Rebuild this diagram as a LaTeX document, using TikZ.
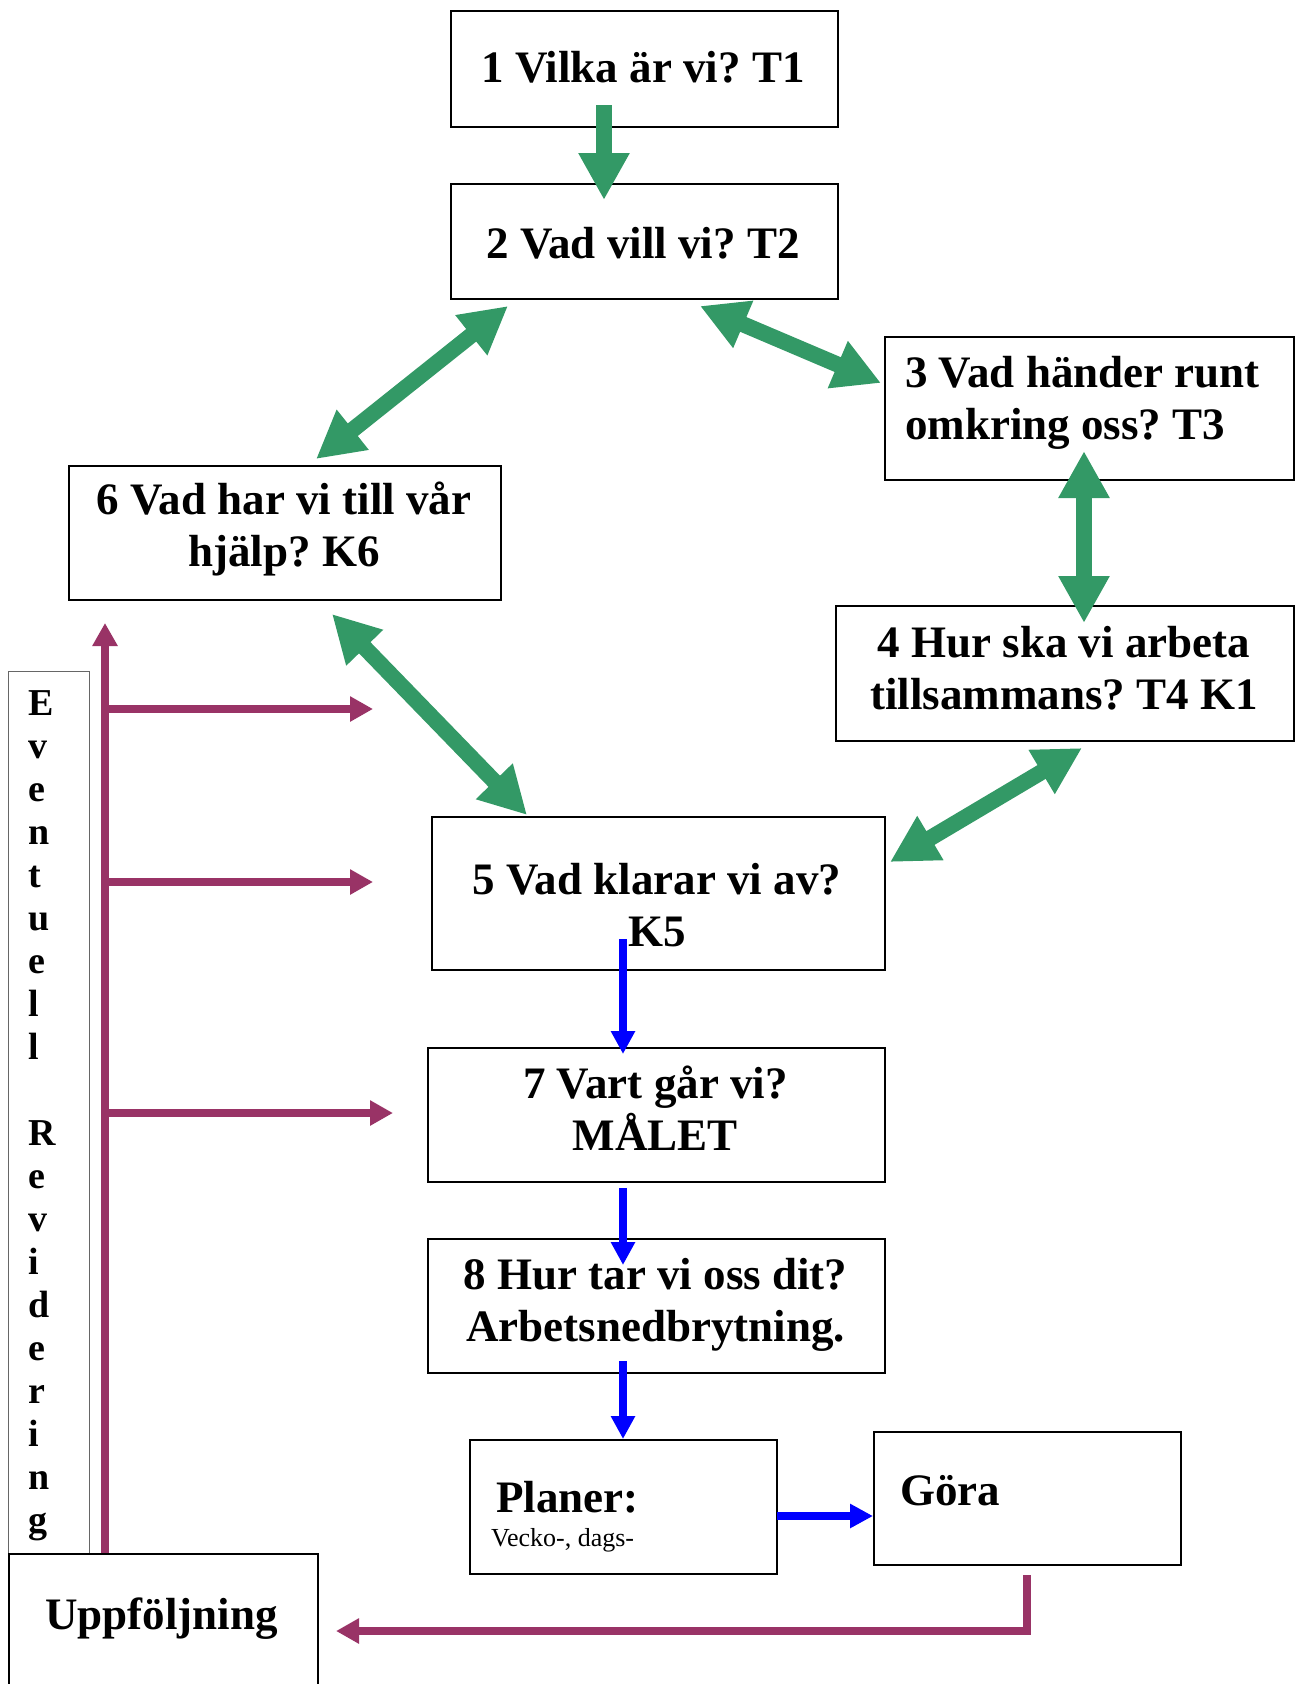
\documentclass[tikz,border=0pt]{standalone}
\usepackage{fontspec}
\setmainfont{Liberation Serif}
\usetikzlibrary{arrows.meta,calc}
\definecolor{grn}{RGB}{51,153,102}
\definecolor{pur}{RGB}{153,51,102}
\definecolor{blu}{RGB}{0,0,255}
\frenchspacing
\begin{document}
\begin{tikzpicture}[x=1pt,y=-1pt,
  box/.style={draw=black, line width=1.8pt, rectangle, inner sep=0pt, anchor=north west},
  txt/.style={font=\fontsize{45}{52}\selectfont\bfseries, inner sep=0pt},
  garrow/.style={draw=grn, line width=16pt, -{Triangle[width=48pt,length=47pt]}},
  gdouble/.style={draw=grn, line width=16pt, {Triangle[width=48pt,length=47pt]}-{Triangle[width=48pt,length=47pt]}},
  parrow/.style={draw=pur, line width=8pt, -{Triangle[width=24pt,length=23pt]}},
  barrow/.style={draw=blu, line width=8pt, -{Triangle[width=23pt,length=23pt]}}
]
\useasboundingbox (0,0) rectangle (1299,1684);
\clip (0,0) rectangle (1299,1684);

% boxes
\node[box, minimum width=387pt, minimum height=116pt] (b1) at (450,10) {};
\node[box, minimum width=387pt, minimum height=115pt] (b2) at (450,183) {};
\node[box, minimum width=409pt, minimum height=143pt] (b3) at (884,336) {};
\node[box, minimum width=458pt, minimum height=135pt] (b4) at (835,605) {};
\node[box, minimum width=432pt, minimum height=134pt] (b6) at (68,465) {};
\node[box, minimum width=453pt, minimum height=153pt] (b5) at (431,816) {};
\node[box, minimum width=457pt, minimum height=134pt] (b7) at (427,1047) {};
\node[box, minimum width=457pt, minimum height=134pt] (b8) at (427,1238) {};
\node[box, minimum width=307pt, minimum height=134pt] (pl) at (469,1439) {};
\node[box, minimum width=307pt, minimum height=133pt] (go) at (873,1431) {};
\node[box, draw=black!60, line width=1.2pt, minimum width=81pt, minimum height=882pt] (ev) at (8,671) {};
\node[box, minimum width=309pt, minimum height=200pt] (up) at (8,1553) {};

% texts
\node[txt, anchor=base] (t1) at (643,82) {1 Vilka är vi? T1};
\node[txt, anchor=base] (t2) at (643,258) {2 Vad vill vi? T2};
\node[txt, anchor=west, align=left] (t3) at (905,403) {3 Vad händer runt\\omkring oss? T3};
\node[txt, align=center] (t4) at (1064,668) {4 Hur ska vi arbeta\\tillsammans? T4 K1};
\node[txt, align=center] (t6) at (284,529) {6 Vad har vi till vår\\hjälp? K6};
\node[txt, align=center] (t5) at (657,905) {5 Vad klarar vi av?\\K5};
\node[txt, align=center] (t7) at (655.5,1108) {7 Vart går vi?\\MÅLET};
\node[txt, align=center] (t8) at (655.5,1305) {8 Hur tar vi oss dit?\\Arbetsnedbrytning.};
\node[txt, anchor=base west] (pl1) at (496,1512) {Planer:};
\node[inner sep=0pt, font=\fontsize{26}{30}\selectfont, anchor=base west] (pl2) at (491,1546) {Vecko-, dags-};
\node[txt, anchor=base west] (go1) at (900,1505) {Göra};
\node[txt, anchor=base west] (up1) at (45,1629) {Uppföljning};
\node[inner sep=0pt, font=\fontsize{38}{43}\selectfont\bfseries, align=left, anchor=north west] (evt) at (28,690)
  {E\\v\\e\\n\\t\\u\\e\\l\\l\\\mbox{}\\R\\e\\v\\i\\d\\e\\r\\i\\n\\g};

% coordinates for connector ends
\coordinate (g12a) at (604,105);  \coordinate (g12b) at (604,200);
\coordinate (g26a) at (508,306);  \coordinate (g26b) at (316,459);
\coordinate (g23a) at (700,306);  \coordinate (g23b) at (881,383);
\coordinate (g34a) at (1084,451); \coordinate (g34b) at (1084,623);
\coordinate (g65a) at (332,614);  \coordinate (g65b) at (527,815);
\coordinate (g45a) at (1082,748); \coordinate (g45b) at (890,862);

\coordinate (pv0) at (105,1553); \coordinate (pv1) at (105,623);
\coordinate (ph1a) at (105,709);  \coordinate (ph1b) at (373,709);
\coordinate (ph2a) at (105,882);  \coordinate (ph2b) at (373,882);
\coordinate (ph3a) at (105,1113); \coordinate (ph3b) at (393,1113);
\coordinate (pb0) at (1027,1575); \coordinate (pb1) at (1027,1631); \coordinate (pb2) at (336,1631);

\coordinate (bl1a) at (623,939);  \coordinate (bl1b) at (623,1054);
\coordinate (bl2a) at (623,1188); \coordinate (bl2b) at (623,1265);
\coordinate (bl3a) at (623,1361); \coordinate (bl3b) at (623,1439);
\coordinate (bl4a) at (777,1516); \coordinate (bl4b) at (873,1516);

% green connectors
\draw[garrow] (g12a) -- (g12b);
\draw[gdouble] (g26a) -- (g26b);
\draw[gdouble] (g23a) -- (g23b);
\draw[gdouble] (g34a) -- (g34b);
\draw[gdouble] (g65a) -- (g65b);
\draw[gdouble] (g45a) -- (g45b);

% purple connectors
\draw[parrow] (pv0) -- (pv1);
\draw[parrow] (ph1a) -- (ph1b);
\draw[parrow] (ph2a) -- (ph2b);
\draw[parrow] (ph3a) -- (ph3b);
\draw[parrow, line join=miter] (pb0) -- (pb1) -- (pb2);

% blue connectors
\draw[barrow] (bl1a) -- (bl1b);
\draw[barrow] (bl2a) -- (bl2b);
\draw[barrow] (bl3a) -- (bl3b);
\draw[barrow] (bl4a) -- (bl4b);
\end{tikzpicture}
\end{document}
